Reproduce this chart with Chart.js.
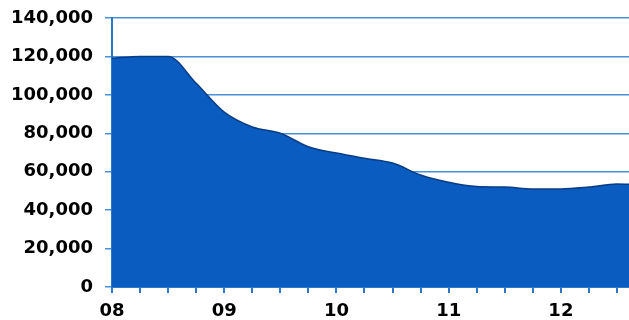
<html>
<head>
<script src="https://cdn.jsdelivr.net/npm/chart.js@4"></script>
</head>
<body style="margin:0; background:#fff; overflow:hidden;">
<div style="width:629px; height:320px;">
  <canvas id="myChart" width="629" height="320"></canvas>
</div>
<script>
// quarter positions in years (08 = 2008), last one is the right edge
const years = [8, 8.25, 8.5, 8.75, 9, 9.25, 9.5, 9.75, 10, 10.25, 10.5, 10.75,
               11, 11.25, 11.5, 11.75, 12, 12.25, 12.5, 12.607];
const values = [119000, 120000, 120000, 106000, 91000, 83300, 80000, 73000, 69700, 67000,
                64500, 58300, 54500, 52300, 52000, 51000, 51000, 52000, 53600, 53500];
const yearLabels = ["08", "09", "10", "11", "12"];

const pts = years.map((x, i) => ({x: x, y: values[i]}));
const blue = "#2b78c9";

new Chart("myChart", {
  type: "line",
  data: {
    datasets: [{
      data: pts,
      fill: "origin",
      backgroundColor: "#0b5cc0",
      borderColor: "#0a3d85",
      borderWidth: 1.5,
      pointRadius: 0,
      cubicInterpolationMode: "monotone"
    }]
  },
  options: {
    responsive: false,
    animation: false,
    layout: {padding: {top: 18, right: 0, left: 0, bottom: 0}},
    plugins: {legend: {display: false}, tooltip: {enabled: false}},
    scales: {
      x: {
        type: "linear",
        min: 8,
        max: 12.607,
        afterFit: s => { s.height = 33; },
        border: {color: blue, width: 2},
        grid: {drawOnChartArea: false, drawTicks: true, tickLength: 6, color: blue, lineWidth: 2},
        ticks: {
          stepSize: 0.25,
          includeBounds: false,
          autoSkip: false,
          maxRotation: 0,
          padding: 8,
          color: "#000",
          font: {family: "DejaVu Sans", weight: "bold", size: 18},
          callback: v => (Math.abs(v - Math.round(v)) < 1e-6) ? yearLabels[Math.round(v) - 8] : ""
        }
      },
      y: {
        min: 0,
        max: 140000,
        afterFit: s => { s.width = 112; s.paddingTop = 0; s.paddingBottom = 0; },
        border: {color: blue, width: 2},
        grid: {color: "#4a90d9", lineWidth: 1.5, tickLength: 7},
        ticks: {
          stepSize: 20000,
          padding: 12,
          color: "#000",
          font: {family: "DejaVu Sans", weight: "bold", size: 18},
          callback: v => v.toLocaleString("en-US")
        }
      }
    }
  }
});
</script>
</body>
</html>
